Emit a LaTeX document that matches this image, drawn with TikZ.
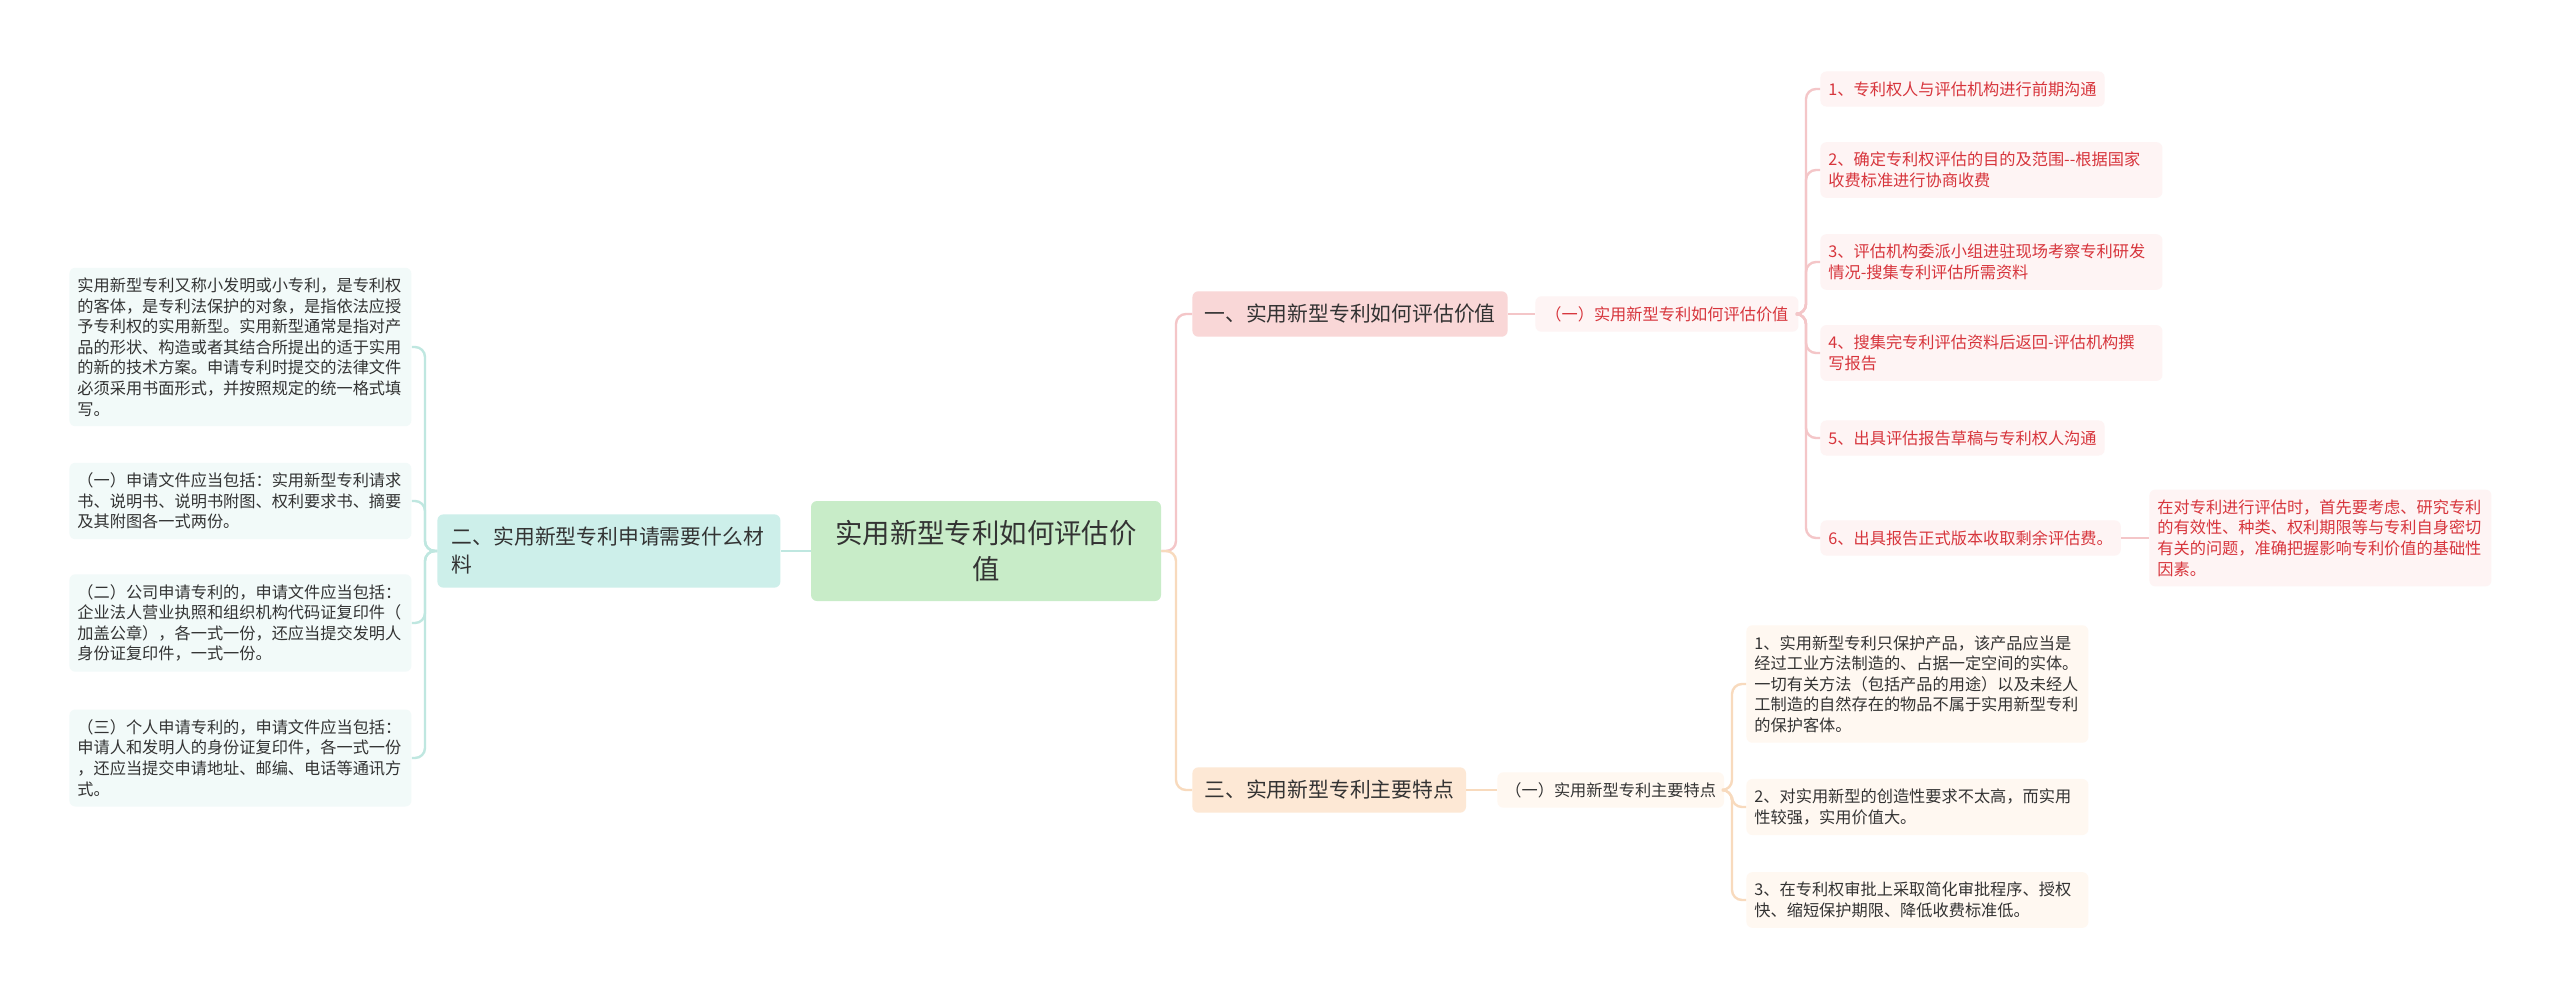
\documentclass[tikz,border=0pt]{standalone}
\usepackage{fontspec}
\setmainfont{Noto Sans CJK SC}
\definecolor{rootfill}{HTML}{C8ECC8}
\definecolor{pinkfill}{HTML}{F9D7D7}
\definecolor{tealfill}{HTML}{CDEFEA}
\definecolor{orangefill}{HTML}{FDE8D5}
\definecolor{tealleaf}{HTML}{F2FAF9}
\definecolor{pinkleaf}{HTML}{FEF4F4}
\definecolor{orangeleaf}{HTML}{FFF8F1}
\definecolor{redtext}{HTML}{D7353C}
\definecolor{darktext}{HTML}{333333}
\definecolor{teal line}{HTML}{BFE7E0}
\definecolor{pink line}{HTML}{F4C6C8}
\definecolor{orange line}{HTML}{F8DABD}
\newcommand\lffont{\fontsize{8.1pt}{10.3pt}\selectfont}
\newcommand\brfont{\fontsize{10.4pt}{14pt}\selectfont}
\newcommand\rtfont{\fontsize{13.7pt}{18pt}\selectfont}
\begin{document}
\begin{tikzpicture}[x=0.5pt,y=-0.5pt,
  box/.style={rounded corners=3pt, inner xsep=4pt, inner ysep=5pt, align=left, font=\lffont, anchor=west},
  tealbox/.style={box, fill=tealleaf, text=darktext, text width=163pt},
  pinkbox/.style={box, fill=pinkleaf, text=redtext},
  orangebox/.style={box, fill=orangeleaf, text=darktext},
  branch/.style={rounded corners=3pt, inner xsep=6pt, inner ysep=6.5pt, align=left, font=\brfont, text=darktext, anchor=west},
  cT/.style={draw=teal line, line width=1.2pt, rounded corners=5pt},
  cP/.style={draw=pink line, line width=1.2pt, rounded corners=5pt},
  cO/.style={draw=orange line, line width=1.2pt, rounded corners=5pt}]
\useasboundingbox[fill=white] (0,0) rectangle (2560,996);

% root
\node[rounded corners=3pt, fill=rootfill, text=darktext, font=\rtfont, align=center,
  text width=152pt, inner xsep=11.5pt, minimum height=50pt] (root) at (986,551)
  {实用新型专利如何评估价\\值};

% left branch
\node[branch, fill=tealfill, text width=157pt, inner xsep=7.25pt] (b2) at (437,551)
  {二、实用新型专利申请需要什么材\\料};
\node[tealbox] (L1) at (69,347) {实用新型专利又称小发明或小专利，是专利权\\的客体，是专利法保护的对象，是指依法应授\\予专利权的实用新型。实用新型通常是指对产\\品的形状、构造或者其结合所提出的适于实用\\的新的技术方案。申请专利时提交的法律文件\\必须采用书面形式，并按照规定的统一格式填\\写。};
\node[tealbox] (L2) at (69,501) {（一）申请文件应当包括：实用新型专利请求\\书、说明书、说明书附图、权利要求书、摘要\\及其附图各一式两份。};
\node[tealbox] (L3) at (69,623) {（二）公司申请专利的，申请文件应当包括：\\企业法人营业执照和组织机构代码证复印件（\\加盖公章），各一式一份，还应当提交发明人\\身份证复印件，一式一份。};
\node[tealbox] (L4) at (69,758) {（三）个人申请专利的，申请文件应当包括：\\申请人和发明人的身份证复印件，各一式一份\\，还应当提交申请地址、邮编、电话等通讯方\\式。};

% branch one
\node[branch, fill=pinkfill] (b1) at (1192,314) {一、实用新型专利如何评估价值};
\node[pinkbox, inner xsep=5pt] (s1) at (1535,314) {（一）实用新型专利如何评估价值};
\node[pinkbox] (R1) at (1820,89) {1、专利权人与评估机构进行前期沟通};
\node[pinkbox, text width=163pt] (R2) at (1820,170) {2、确定专利权评估的目的及范围{-}{-}根据国家\\收费标准进行协商收费};
\node[pinkbox, text width=163pt] (R3) at (1820,262) {3、评估机构委派小组进驻现场考察专利研发\\情况-搜集专利评估所需资料};
\node[pinkbox, text width=163pt] (R4) at (1820,353) {4、搜集完专利评估资料后返回-评估机构撰\\写报告};
\node[pinkbox] (R5) at (1820,438) {5、出具评估报告草稿与专利权人沟通};
\node[pinkbox] (R6) at (1820,538) {6、出具报告正式版本收取剩余评估费。};
\node[pinkbox, text width=163pt] (R6c) at (2149,538) {在对专利进行评估时，首先要考虑、研究专利\\的有效性、种类、权利期限等与专利自身密切\\有关的问题，准确把握影响专利价值的基础性\\因素。};

% branch three
\node[branch, fill=orangefill] (b3) at (1192,790) {三、实用新型专利主要特点};
\node[orangebox] (s3) at (1497,790) {（一）实用新型专利主要特点};
\node[orangebox, text width=163pt] (F1) at (1746,684) {1、实用新型专利只保护产品，该产品应当是\\经过工业方法制造的、占据一定空间的实体。\\一切有关方法（包括产品的用途）以及未经人\\工制造的自然存在的物品不属于实用新型专利\\的保护客体。};
\node[orangebox, text width=163pt] (F2) at (1746,807) {2、对实用新型的创造性要求不太高，而实用\\性较强，实用价值大。};
\node[orangebox, text width=163pt] (F3) at (1746,900) {3、在专利权审批上采取简化审批程序、授权\\快、缩短保护期限、降低收费标准低。};

% spine coordinates
\coordinate (sL) at (425,551);
\coordinate (sR) at (1176,551);
\coordinate (sR1) at (1806,314);
\coordinate (sF) at (1732,790);

% connectors
\draw[cT] (root.west) -- (b2.east);
\foreach \n in {L1,L2,L3,L4} \draw[cT] (b2.west) -- (sL) |- (\n.east);
\draw[cP] (root.east) -- (sR) |- (b1.west);
\draw[cO] (root.east) -- (sR) |- (b3.west);
\draw[cP] (b1.east) -- (s1.west);
\foreach \n in {R1,R2,R3,R4,R5,R6} \draw[cP] (s1.east) -- (sR1) |- (\n.west);
\draw[cP] (R6.east) -- (R6c.west);
\draw[cO] (b3.east) -- (s3.west);
\foreach \n in {F1,F2,F3} \draw[cO] (s3.east) -- (sF) |- (\n.west);
\end{tikzpicture}
\end{document}
